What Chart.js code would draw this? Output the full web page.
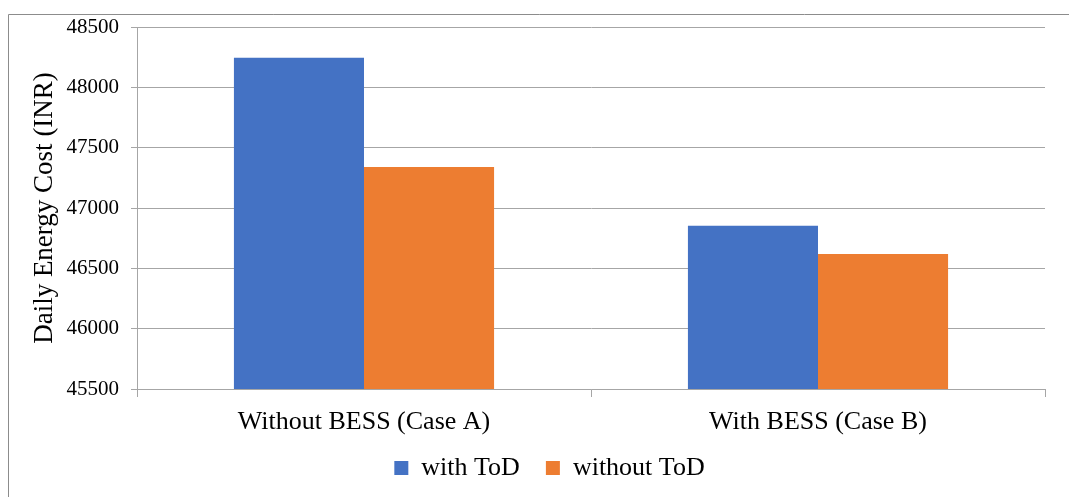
<!DOCTYPE html>
<html>
<head>
<meta charset="utf-8">
<style>
  html, body { margin: 0; padding: 0; background: #ffffff; }
  #wrap { position: relative; width: 1069px; height: 497px; }
</style>
<script src="https://cdn.jsdelivr.net/npm/chart.js@4/dist/chart.umd.min.js"></script>
</head>
<body>
<div id="wrap"><canvas id="chart" width="1069" height="497"></canvas></div>
<script>
// Daily energy cost per scenario, with and without time-of-day tariff
const categories = ['Without BESS (Case A)', 'With BESS (Case B)'];
const withToD = [48245, 46852];
const withoutToD = [47340, 46618];
const seriesNames = ['with ToD', 'without ToD'];
const yTicks = [45500, 46000, 46500, 47000, 47500, 48000, 48500];

const serif = "'Liberation Serif', 'Times New Roman', serif";
const gridColor = '#a6a6a6';

// Thin frame around the whole figure; legend nudged into place
const framePlugin = {
  id: 'frame',
  beforeDraw(chart) {
    const lg = chart.legend;
    if (lg && !lg._shifted) {
      lg.left += 22;
      lg.right += 22;
      lg.top -= 6;
      lg.bottom -= 6;
      lg._shifted = true;
    }
    const ctx = chart.ctx;
    ctx.save();
    ctx.strokeStyle = '#8c8c8c';
    ctx.lineWidth = 1;
    ctx.beginPath();
    ctx.moveTo(8.5, 520);
    ctx.lineTo(8.5, 14.5);
    ctx.lineTo(1080, 14.5);
    ctx.stroke();
    ctx.restore();
  }
};

new Chart(document.getElementById('chart'), {
  type: 'bar',
  data: {
    labels: categories,
    datasets: [
      { label: seriesNames[0], data: withToD, backgroundColor: '#4472c4', borderWidth: 0 },
      { label: seriesNames[1], data: withoutToD, backgroundColor: '#ed7d31', borderWidth: 0 }
    ]
  },
  options: {
    responsive: false,
    animation: false,
    devicePixelRatio: 1,
    layout: { padding: { left: 10, right: 24, top: 27, bottom: 0 } },
    datasets: { bar: { categoryPercentage: 0.573, barPercentage: 1.0 } },
    scales: {
      x: {
        grid: {
          display: true,
          drawOnChartArea: false,
          drawTicks: true,
          tickLength: 8,
          color: gridColor
        },
        border: { display: true, color: gridColor },
        ticks: { color: '#000', font: { family: serif, size: 26 }, padding: 10 },
        afterFit(scale) { scale.height = 46; }
      },
      y: {
        min: yTicks[0],
        max: yTicks[yTicks.length - 1],
        afterBuildTicks(scale) { scale.ticks = yTicks.map(v => ({ value: v })); },
        grid: { color: gridColor, tickLength: 6, drawTicks: true },
        border: { display: true, color: gridColor },
        ticks: {
          color: '#000',
          font: { family: serif, size: 21 },
          padding: 12,
          callback: v => String(v)
        },
        title: {
          display: true,
          text: 'Daily Energy Cost (INR)',
          color: '#000',
          font: { family: serif, size: 27 },
          padding: { top: 19, bottom: 0 }
        },
        afterFit(scale) { scale.width = 127; }
      }
    },
    plugins: {
      legend: {
        position: 'bottom',
        labels: {
          color: '#000',
          font: { family: serif, size: 26 },
          boxWidth: 14,
          boxHeight: 14,
          padding: 26
        }
      },
      tooltip: { enabled: false }
    }
  },
  plugins: [framePlugin]
});
</script>
</body>
</html>
